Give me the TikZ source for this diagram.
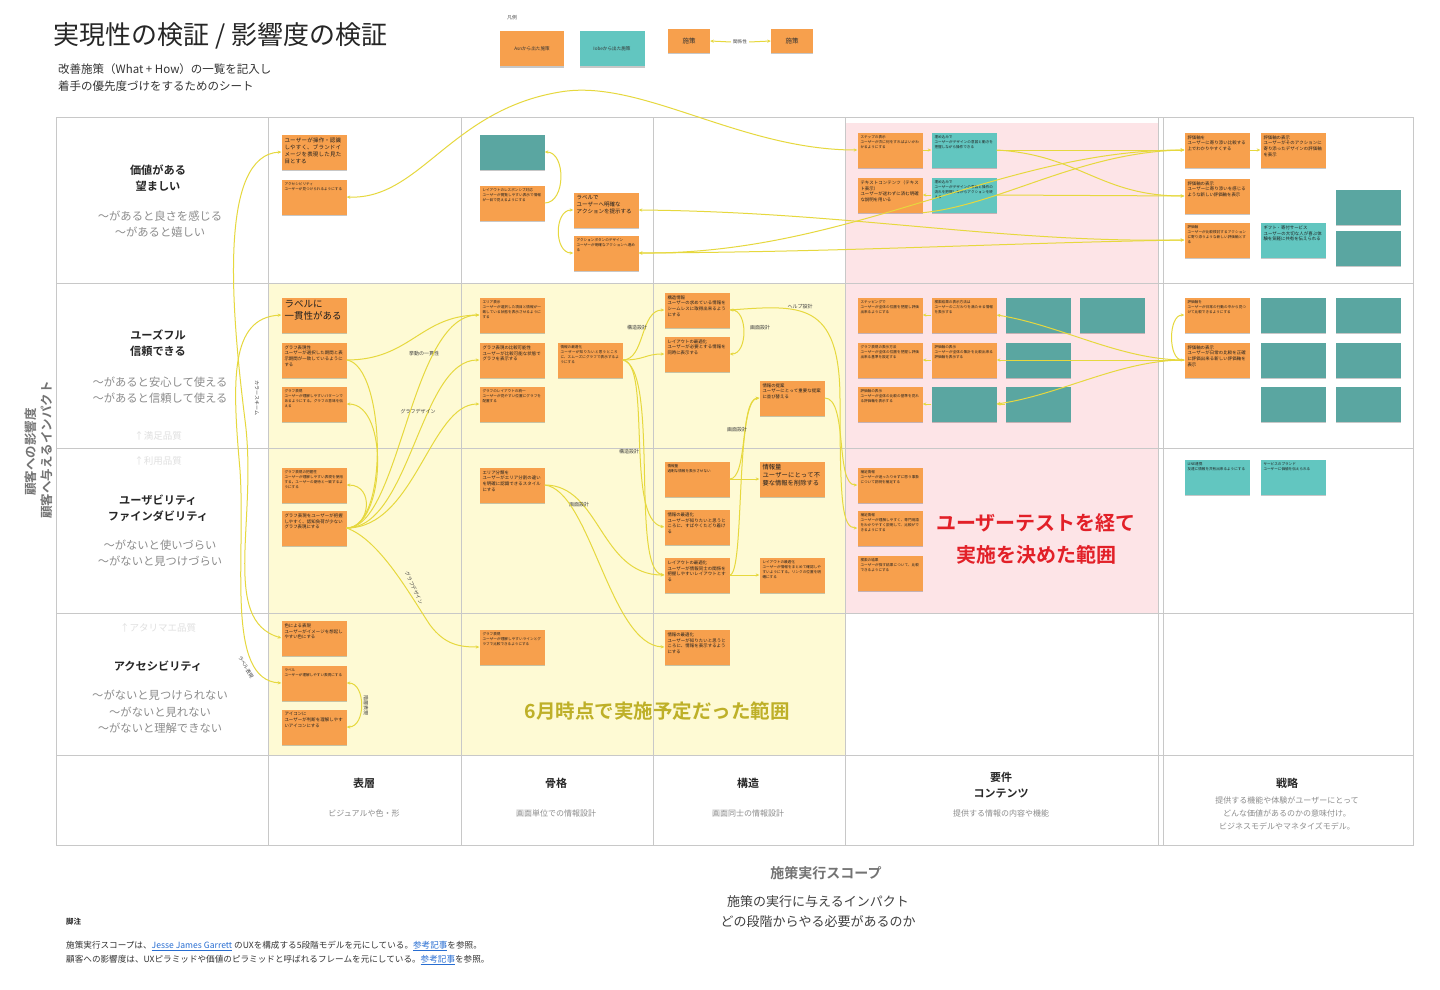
\documentclass[tikz,border=0pt]{standalone}
\usepackage{fontspec}
\setmainfont{Noto Sans CJK JP}[BoldFont={Noto Sans CJK JP Bold}]
\usetikzlibrary{shadows,arrows.meta}
\XeTeXlinebreaklocale "ja"
\XeTeXlinebreakskip=0pt plus 1pt
\definecolor{org}{RGB}{247,160,77}
\definecolor{tea}{RGB}{98,198,192}
\definecolor{ted}{RGB}{90,166,161}
\definecolor{lnk}{RGB}{230,216,62}
\definecolor{grd}{RGB}{200,200,200}
\definecolor{ylw}{RGB}{254,250,212}
\definecolor{pnk}{RGB}{253,228,231}
\definecolor{olv}{RGB}{190,176,40}
\definecolor{rd}{RGB}{226,32,40}
\definecolor{lb}{RGB}{40,110,210}
\newcommand\ft[2]{\fontsize{#1}{#2}\selectfont}
\newcommand\fa{\ft{3.6}{4.9}}
\newcommand\fb{\ft{4.4}{5.8}}
\newcommand\fc{\ft{5.5}{7}}
\newcommand\stk[6]{%
  \node[note,fill=#4] (#1) at (#2,#3) {};
  \node[notetext,font=#5] (#1t) at (#1.north west) {#6};}
\begin{document}
\begin{tikzpicture}[x=1pt,y=-1pt,
  note/.style={rectangle,minimum width=65pt,minimum height=35pt,inner sep=0pt,
    drop shadow={shadow xshift=0pt,shadow yshift=-1.3pt,opacity=0.22,fill=black}},
  notetext/.style={anchor=north west,inner sep=3pt,text width=59pt,align=left,text=black!88},
  lk/.style={draw=lnk,line width=1pt},
  >={Stealth[length=3.6pt,width=3.2pt]},
  cl/.style={font=\ft{5}{6},text=black!75,inner sep=0.5pt},
  rowh/.style={font=\bfseries\ft{11.2}{16.5},text=black!85,align=center},
  rowg/.style={font=\ft{11.3}{16.5},text=black!45,align=center},
  faint/.style={font=\ft{9.5}{11},text=black!12},
  colh/.style={font=\bfseries\ft{11}{16},text=black!85,align=center},
  colg/.style={font=\ft{8}{13},text=black!45,align=center}]
\fill[white] (0,0) rectangle (1440,990);
\useasboundingbox (0,0) rectangle (1440,990);
% regions
\fill[ylw] (268,283) rectangle (845,755);
\fill[pnk] (846,123) rectangle (1158,613);
% grid
\draw[grd,line width=0.9pt] (56,117) rectangle (1413,845);
\foreach \yy in {283,448,613,755} \draw[grd,line width=0.9pt] (56,\yy) -- (1413,\yy);
\foreach \xx in {268,461,653,845,1158,1163} \draw[grd,line width=0.9pt] (\xx,117) -- (\xx,845);
% title
\node[anchor=west,font=\ft{26}{28},text=black!85,inner sep=0pt] (title) at (53,36) {実現性の検証 / 影響度の検証};
\node[anchor=north west,align=left,font=\ft{11.5}{17},text=black!80,inner sep=0pt] (sub) at (58,63) {改善施策（What + How）の一覧を記入し\\着手の優先度づけをするためのシート};
% legend
\node[font=\ft{5}{6},text=black!70] (lgt) at (512,18) {凡例};
\node[note,fill=org,minimum width=64pt,minimum height=35pt,font=\ft{4.6}{5},text=black!80] (lg1) at (532,49) {Asnから出た施策};
\node[note,fill=tea,minimum width=65pt,minimum height=35pt,font=\ft{4.6}{5},text=black!80] (lg2) at (612,49) {Iobeから出た施策};
\node[note,fill=org,minimum width=42pt,minimum height=24pt,font=\ft{6.5}{7},text=black!80] (lg3) at (689,41) {施策};
\node[note,fill=org,minimum width=42pt,minimum height=24pt,font=\ft{6.5}{7},text=black!80] (lg4) at (792,41) {施策};
\node[font=\ft{4.6}{5},text=black!75,inner sep=2pt] (rel) at (740,42) {関係性};
\draw[lk,<-] (lg3.east) -- (rel.west);
\draw[lk,->] (rel.east) -- (lg4.west);
% vertical axis
\node[rotate=90,font=\bfseries\ft{12.5}{14},text=black!55] (v1) at (31,452) {顧客への影響度};
\node[rotate=90,font=\bfseries\ft{12.5}{14},text=black!55] (v2) at (47,450) {顧客へ与えるインパクト};
% row labels
\node[rowh] (r1a) at (158,178) {価値がある\\望ましい};
\node[rowg] (r1b) at (160,224) {〜があると良さを感じる\\〜があると嬉しい};
\node[rowh] (r2a) at (158,343) {ユーズフル\\信頼できる};
\node[rowg] (r2b) at (160,390) {〜があると安心して使える\\〜があると信頼して使える};
\node[faint] (f1) at (158,436) {↑満足品質};
\node[faint] (f2) at (158,461) {↑利用品質};
\node[rowh] (r3a) at (158,508) {ユーザビリティ\\ファインダビリティ};
\node[rowg] (r3b) at (160,553) {〜がないと使いづらい\\〜がないと見つけづらい};
\node[faint] (f3) at (158,628) {↑アタリマエ品質};
\node[rowh] (r4a) at (158,666) {アクセシビリティ};
\node[rowg] (r4b) at (160,712) {〜がないと見つけられない\\〜がないと見れない\\〜がないと理解できない};
% column labels
\node[colh] (c1a) at (364,783) {表層};
\node[colg] (c1b) at (364,813) {ビジュアルや色・形};
\node[colh] (c2a) at (556,783) {骨格};
\node[colg] (c2b) at (556,813) {画面単位での情報設計};
\node[colh] (c3a) at (748,783) {構造};
\node[colg] (c3b) at (748,813) {画面同士の情報設計};
\node[colh] (c4a) at (1001,785) {要件\\コンテンツ};
\node[colg] (c4b) at (1001,813) {提供する情報の内容や機能};
\node[colh] (c5a) at (1287,783) {戦略};
\node[colg] (c5b) at (1287,813) {提供する機能や体験がユーザーにとって\\どんな価値があるのかの意味付け。\\ビジネスモデルやマネタイズモデル。};
% bottom texts
\node[font=\bfseries\ft{14}{16},text=black!55] (xa) at (826,873) {施策実行スコープ};
\node[font=\ft{13}{20},text=black!75,align=center] (xb) at (818,912) {施策の実行に与えるインパクト\\どの段階からやる必要があるのか};
\node[anchor=west,font=\bfseries\ft{7.5}{9},text=black!85,inner sep=0pt] (fn) at (66,922) {脚注};
\node[anchor=west,font=\ft{8.6}{9},text=black!80,inner sep=0pt] (fn1) at (66,946) {施策実行スコープは、{\color{lb}\underline{Jesse James Garrett}} のUXを構成する5段階モデルを元にしている。{\color{lb}\underline{参考記事}}を参照。};
\node[anchor=west,font=\ft{8.6}{9},text=black!80,inner sep=0pt] (fn2) at (66,960) {顧客への影響度は、UXピラミッドや価値のピラミッドと呼ばれるフレームを元にしている。{\color{lb}\underline{参考記事}}を参照。};
% area captions
\node[font=\bfseries\ft{20}{32},text=rd,align=center] (redt) at (1036,539) {ユーザーテストを経て\\実施を決めた範囲};
\node[font=\bfseries\ft{19.5}{22},text=olv] (olvt) at (657,711) {6月時点で実施予定だった範囲};
% ---- sticky notes: column 1
\stk{A1}{314}{152}{org}{\fc}{ユーザーが操作・認識しやすく、ブランドイメージを表現した見た目とする}
\stk{A2}{314}{197}{org}{\fa}{アクセシビリティ\\ユーザーが見つけられるようにする}
\stk{B1}{314}{315}{org}{\ft{9.5}{12}}{ラベルに\\一貫性がある}
\stk{B2}{314}{360}{org}{\fb}{グラフ表現性\\ユーザーが選択した期間と表示期間が一致しているようにする}
\stk{B3}{314}{404}{org}{\fa}{グラフ表現\\ユーザーが理解しやすいパターンであるようにする。グラフの意味を伝える}
\stk{C1}{314}{485}{org}{\fa}{グラフ表現の把握性\\ユーザーが理解しやすい表現を使用する。ユーザーの期待と一致するようにする}
\stk{C2}{314}{528}{org}{\fb}{グラフ表現をユーザーが把握しやすく、認知負荷が少ないグラフ表現にする}
\stk{D1}{314}{638}{org}{\fb}{色による表現\\ユーザーがイメージを想起しやすい色にする}
\stk{D2}{314}{683}{org}{\fa}{ラベル\\ユーザーが理解しやすい表現にする}
\stk{D3}{314}{727}{org}{\fb}{アイコンに\\ユーザーが判断を理解しやすいアイコンにする}
% column 2
\stk{E1}{512}{152}{ted}{\fa}{}
\stk{E2}{512}{203}{org}{\fa}{レイアウトのレスポンシブ対応\\ユーザーが閲覧しやすい表示で情報が一目で見えるようにする}
\stk{E3}{606}{210}{org}{\fc}{ラベルで\\ユーザーへ明確な\\アクションを提示する}
\stk{E4}{606}{253}{org}{\fa}{アクションボタンのデザイン\\ユーザーが明確なアクションへ進める}
\stk{F1}{512}{315}{org}{\fa}{エリア表示\\ユーザーが選択した項目と情報が一致している状態を表示させるようにする}
\stk{F2}{512}{360}{org}{\fb}{グラフ表現の比較可能性\\ユーザーが比較可能な状態でグラフを表示する}
\stk{F3}{590}{360}{org}{\fa}{情報の最適化\\ユーザーが知りたいと思うところに、スムーズにグラフで表示するようにする}
\stk{F4}{512}{404}{org}{\fa}{グラフのレイアウトの統一\\ユーザーが見やすい位置にグラフを配置する}
\stk{G1}{512}{485}{org}{\fb}{エリア分類を\\ユーザーがエリア分割の違いを明確に認識できるスタイルにする}
\stk{H1}{512}{647}{org}{\fa}{グラフ表現\\ユーザーが理解しやすいラインとグラフで比較できるようにする}
% column 3
\stk{I1}{697}{310}{org}{\fb}{構造情報\\ユーザーの求めている情報をシームレスに取得出来るようにする}
\stk{I2}{697}{354}{org}{\fb}{レイアウトの最適化\\ユーザーが必要とする情報を同時に表示する}
\stk{I3}{792}{398}{org}{\fb}{情報の提案\\ユーザーにとって重要な提案に並び替える}
\stk{J1}{697}{479}{org}{\fa}{情報量\\過剰な情報を表示させない}
\stk{J2}{792}{479}{org}{\ft{6.3}{8}}{情報量\\ユーザーにとって不要な情報を削除する}
\stk{J3}{697}{527}{org}{\fb}{情報の最適化\\ユーザーが知りたいと思うところに、すばやくたどり着ける}
\stk{J4}{697}{575}{org}{\fb}{レイアウトの最適化\\ユーザーが情報同士の関係を把握しやすいレイアウトとする}
\stk{J5}{792}{575}{org}{\fa}{レイアウトの最適化\\ユーザーが情報をまとめて確認しやすいようにする。リンクの位置を明確にする}
\stk{K1}{697}{647}{org}{\fb}{情報の最適化\\ユーザーが知りたいと思うところに、情報を表示するようにする}
% column 4
\stk{L1}{890}{150}{org}{\fa}{ステップの表示\\ユーザーが次に何をすればよいかわかるようにする}
\stk{L2}{964}{150}{tea}{\fa}{埋め込みで\\ユーザーがデザインの意図と動きを把握しながら操作できる}
\stk{L3}{890}{195}{org}{\fb}{テキストコンテンツ（テキスト表示）\\ユーザーが迷わずに済む明確な説明を用いる}
\stk{L4}{964}{195}{tea}{\fa}{埋め込みで\\ユーザーがデザインの意図と操作の流れを把握しながらアクションを終える}
\stk{M1}{890}{315}{org}{\fa}{ステッピングで\\ユーザーが全体の位置を把握し評価出来るようにする}
\stk{M2}{964}{315}{org}{\fa}{検索結果の表示方法は\\ユーザーのこだわりを満たせる情報を表示する}
\stk{M3}{1038}{315}{ted}{\fa}{}
\stk{M4}{1112}{315}{ted}{\fa}{}
\stk{M5}{890}{360}{org}{\fa}{グラフ表現の表示方法\\ユーザーが全体の位置を把握し評価出来る基準を設定する}
\stk{M6}{964}{360}{org}{\fa}{評価軸の表示\\ユーザーが全体の集計を比較出来る評価軸を表示する}
\stk{M7}{1038}{360}{ted}{\fa}{}
\stk{M8}{890}{404}{org}{\fa}{評価軸の表示\\ユーザーが全体の比較の基準を見れる評価軸を表示する}
\stk{M9}{964}{404}{ted}{\fa}{}
\stk{M10}{1038}{404}{ted}{\fa}{}
\stk{N1}{890}{485}{org}{\fa}{補足情報\\ユーザーが迷ったりせずに思う事象について説明を補足する}
\stk{N2}{890}{528}{org}{\fa}{補足情報\\ユーザーが理解しやすく、専門用語をわかりやすく説明して、比較ができるようにする}
\stk{N3}{890}{573}{org}{\fa}{検索の結果\\ユーザーが探す結果について、比較できるようにする}
% column 5
\stk{P1}{1217}{150}{org}{\fb}{評価軸を\\ユーザーに寄り添い比較する上でわかりやすくする}
\stk{P2}{1293}{150}{org}{\fb}{評価軸の表示\\ユーザーがそのアクションに寄り添ったデザインの評価軸を表示}
\stk{P3}{1217}{196}{org}{\fb}{評価軸の表示\\ユーザーに寄り添いを感じるような新しい評価軸を表示}
\stk{P4}{1368}{207}{ted}{\fa}{}
\stk{P5}{1217}{240}{org}{\fa}{評価軸\\ユーザーが比較検討するアクションに寄り添うような新しい評価軸とする}
\stk{P6}{1293}{240}{tea}{\fb}{ギフト・寄付サービス\\ユーザーの大切な人が喜ぶ体験を気軽に共有を伝えられる}
\stk{P7}{1368}{248}{ted}{\fa}{}
\stk{Q1}{1217}{315}{org}{\fa}{評価軸を\\ユーザーが日常の行動の中から見つけて比較できるようにする}
\stk{Q2}{1293}{315}{ted}{\fa}{}
\stk{Q3}{1368}{315}{ted}{\fa}{}
\stk{Q4}{1217}{360}{org}{\fb}{評価軸の表示\\ユーザーが日常の比較を正確に評価出来る新しい評価軸を表示}
\stk{Q5}{1293}{360}{ted}{\fa}{}
\stk{Q6}{1368}{360}{ted}{\fa}{}
\stk{Q7}{1293}{404}{ted}{\fa}{}
\stk{Q8}{1368}{404}{ted}{\fa}{}
\stk{R1}{1217}{477}{tea}{\fa}{LINE連携\\友達に情報を共有出来るようにする}
\stk{R2}{1293}{477}{tea}{\fa}{サービスのブランド\\ユーザーに価値を伝えられる}
% ---- connectors
\draw[lk,<->] (A2.east) .. controls (420,200) and (450,110) .. (560,92) .. controls (640,78) and (740,150) .. (L1.west);
\draw[lk,<->] (A1.west) .. controls (220,155) and (230,300) .. (245,420) .. controls (258,520) and (220,620) .. (D1.west);
\draw[lk,<->] (B1.west) .. controls (230,318) and (232,380) .. (240,470) .. controls (246,560) and (225,680) .. (D2.west);
\node[cl,rotate=-90] (t1) at (257,398) {カラースキーム};
\node[cl,rotate=-60] (t2) at (246,667) {ラベル表現};
\draw[lk,<->] (D2.east) .. controls (366,683) and (366,727) .. (D3.east);
\node[cl,rotate=-90] (t3) at (366,705) {階層表現};
\draw[lk,->] (B2.east) .. controls (410,360) and (420,316) .. (F1.west);
\node[cl] (t4) at (424,354) {挙動の一貫性};
\draw[lk] (C2.east) .. controls (390,528) and (385,365) .. (B2.east);
\draw[lk,->] (C2.east) .. controls (400,528) and (410,316) .. (F1.west);
\draw[lk,->] (C2.east) .. controls (410,528) and (420,360) .. (F2.west);
\draw[lk,->] (C2.east) .. controls (415,528) and (430,404) .. (F4.west);
\node[cl] (t5) at (418,412) {グラフデザイン};
\draw[lk,->] (C2.east) .. controls (385,528) and (390,404) .. (B3.east);
\draw[lk,->] (C2.east) .. controls (370,528) and (375,485) .. (C1.east);
\draw[lk,->] (C2.east) .. controls (380,540) and (410,595) .. (430,625) .. controls (445,645) and (460,647) .. (H1.west);
\node[cl,rotate=-65] (t6) at (414,588) {グラフデザイン};
\draw[lk,->] (E2.east) .. controls (566,203) and (566,152) .. (E1.east);
\draw[lk,<->] (E3.west) .. controls (554,210) and (554,253) .. (E4.west);
\draw[lk,<->] (E3.east) .. controls (850,212) and (1000,243) .. (P5.west);
\draw[lk,<->] (E4.east) .. controls (850,252) and (1000,243) .. (P5.west);
\draw[lk,<->] (E4.east) .. controls (850,255) and (1000,150) .. (P1.west);
\draw[lk,->] (L1.east) -- (L2.west);
\draw[lk,->] (L4.west) -- (L3.east);
\draw[lk,->] (L2.east) -- (P1.west);
\draw[lk,->] (L2.east) .. controls (1080,155) and (1100,196) .. (P3.west);
\draw[lk,->] (L4.east) -- (P3.west);
\draw[lk,->] (L3.south east) .. controls (1000,205) and (1080,152) .. (P1.west);
\draw[lk,->] (P1.east) -- (P2.west);
\draw[lk,<->] (Q1.west) .. controls (1168,315) and (1168,360) .. (Q4.west);
\draw[lk,<-] (M6.east) -- (Q4.west);
\draw[lk,<-] (M2.east) .. controls (1060,325) and (1120,360) .. (Q4.west);
\draw[lk,<-] (M9.east) .. controls (1060,395) and (1120,360) .. (Q4.west);
\draw[lk,->] (M2.west) -- (M1.east);
\draw[lk,->] (M6.west) -- (M5.east);
\draw[lk,->] (M9.west) -- (M8.east);
\draw[lk,->] (M10.west) -- (M9.east);
\draw[lk,->] (F3.east) .. controls (645,360) and (640,310) .. (I1.west);
\draw[lk,->] (F3.east) .. controls (645,360) and (645,354) .. (I2.west);
\node[cl] (t7) at (637,328) {構造設計};
\draw[lk,->] (F3.east) .. controls (652,362) and (625,520) .. (J3.west);
\draw[lk,->] (F3.east) .. controls (660,368) and (630,570) .. (J4.west);
\node[cl] (t8) at (629,452) {構造設計};
\draw[lk,<->] (I1.east) .. controls (748,310) and (748,354) .. (I2.east);
\node[cl] (t9) at (760,328) {画面設計};
\draw[lk,->] (I1.east) .. controls (800,305) and (840,300) .. (840,400) .. controls (840,500) and (842,528) .. (N2.west);
\node[cl] (t10) at (800,307) {ヘルプ設計};
\draw[lk,->] (I3.east) .. controls (848,398) and (835,485) .. (N1.west);
\draw[lk,->] (J1.east) -- (J2.west);
\draw[lk,->] (J1.east) .. controls (748,479) and (740,400) .. (I3.west);
\draw[lk,->] (J4.east) .. controls (745,575) and (735,400) .. (I3.west);
\node[cl] (t11) at (737,430) {画面設計};
\draw[lk,->] (J4.east) -- (J5.west);
\draw[lk,->] (G1.east) .. controls (600,485) and (600,575) .. (J4.west);
\node[cl] (t12) at (579,505) {画面設計};
\draw[lk,->] (G1.east) .. controls (590,490) and (610,645) .. (K1.west);
\end{tikzpicture}
\end{document}
